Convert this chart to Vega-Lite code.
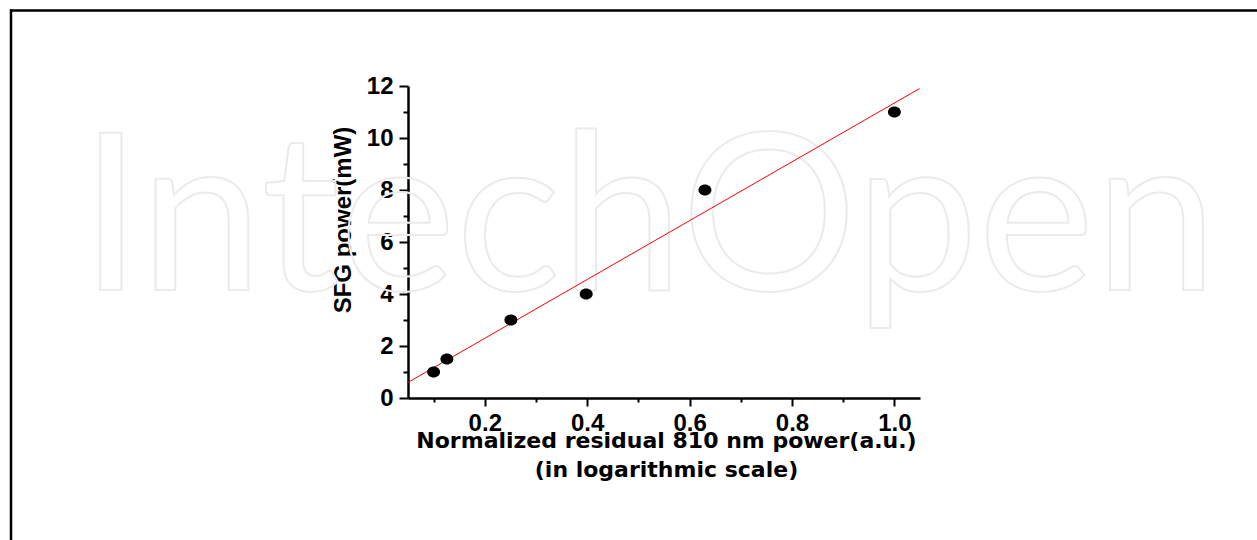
{
  "$schema": "https://vega.github.io/schema/vega-lite/v6.json",
  "width": 512,
  "height": 312,
  "autosize": {"type": "none"},
  "padding": {"left": 408, "top": 86, "right": 337, "bottom": 142},
  "background": "white",
  "config": {
    "view": {"stroke": null},
    "axis": {
      "grid": false,
      "domainColor": "black",
      "domainWidth": 2.5,
      "tickColor": "black",
      "tickWidth": 2,
      "labelColor": "black",
      "titleColor": "black",
      "labelFont": "Liberation Sans",
      "labelFontWeight": "bold",
      "labelFontSize": 24,
      "titleFont": "Liberation Sans",
      "titleFontWeight": "bold"
    }
  },
  "datasets": {
    "measured": [
      {"power": 0.1, "sfg": 1.0},
      {"power": 0.126, "sfg": 1.5},
      {"power": 0.251, "sfg": 3.0},
      {"power": 0.398, "sfg": 4.0},
      {"power": 0.63, "sfg": 8.0},
      {"power": 1.0, "sfg": 11.0}
    ],
    "fit": [
      {"power": 0.05, "sfg": 0.6},
      {"power": 1.049, "sfg": 11.9}
    ],
    "note": [{"label": "IntechOpen"}]
  },
  "layer": [
    {
      "data": {"name": "note"},
      "mark": {"type": "text", "font": "Lato", "fontSize": 220, "fontWeight": "normal", "align": "center", "baseline": "alphabetic", "stroke": "#ebebeb", "strokeWidth": 2, "fillOpacity": 0},
      "encoding": {
        "x": {"datum": 0.52, "type": "quantitative", "scale": {"domain": [0.05, 1.05], "nice": false, "zero": false}, "axis": null},
        "y": {"datum": 4.15, "type": "quantitative", "scale": {"domain": [0, 12], "nice": false, "zero": false}, "axis": null},
        "text": {"field": "label"}
      }
    },
    {
      "data": {"name": "note"},
      "mark": {"type": "rule", "color": "black", "strokeWidth": 2.5},
      "encoding": {
        "x": {"datum": -0.7273, "type": "quantitative", "axis": null},
        "x2": {"datum": 1.72},
        "y": {"datum": 14.904, "type": "quantitative", "axis": null}
      }
    },
    {
      "data": {"name": "note"},
      "mark": {"type": "rule", "color": "black", "strokeWidth": 2.5},
      "encoding": {
        "x": {"datum": -0.7254, "type": "quantitative", "axis": null},
        "y": {"datum": 14.95, "type": "quantitative", "axis": null},
        "y2": {"datum": -5.6}
      }
    },
    {
      "data": {"name": "fit"},
      "mark": {"type": "line", "color": "#ff0000", "strokeWidth": 1},
      "encoding": {
        "x": {
          "field": "power", "type": "quantitative",
          "axis": {
            "orient": "bottom",
            "values": [0.2, 0.4, 0.6, 0.8, 1.0],
            "format": ".1f",
            "tickSize": 8,
            "labelPadding": 5,
            "title": ["Normalized residual 810 nm power(a.u.)", "(in logarithmic scale)"],
            "titleFont": "DejaVu Sans",
            "titleFontSize": 22,
            "titleLineHeight": 29,
            "titleX": 258,
            "titleY": 32,
            "titleAlign": "center",
            "titleBaseline": "top"
          }
        },
        "y": {
          "field": "sfg", "type": "quantitative",
          "axis": {
            "orient": "left",
            "values": [0, 2, 4, 6, 8, 10, 12],
            "format": "d",
            "tickSize": 9,
            "labelPadding": 6,
            "title": "SFG power(mW)",
            "titleFontSize": 24,
            "titleAngle": 270,
            "titleX": -58,
            "titleY": 133.5,
            "titleAlign": "center",
            "titleBaseline": "alphabetic"
          }
        }
      }
    },
    {
      "data": {"name": "measured"},
      "mark": {"type": "point", "filled": true, "opacity": 1, "color": "black", "size": 169, "shape": "M -1 0 A 1 0.85 0 1 0 1 0 A 1 0.85 0 1 0 -1 0 Z"},
      "encoding": {
        "x": {
          "field": "power", "type": "quantitative",
          "axis": {"orient": "bottom", "values": [0.1, 0.3, 0.5, 0.7, 0.9], "labels": false, "domain": false, "tickSize": 4, "title": null}
        },
        "y": {
          "field": "sfg", "type": "quantitative",
          "axis": {"orient": "left", "values": [1, 3, 5, 7, 9, 11], "labels": false, "domain": false, "tickSize": 5, "title": null}
        }
      }
    }
  ],
  "resolve": {"axis": {"x": "independent", "y": "independent"}}
}
